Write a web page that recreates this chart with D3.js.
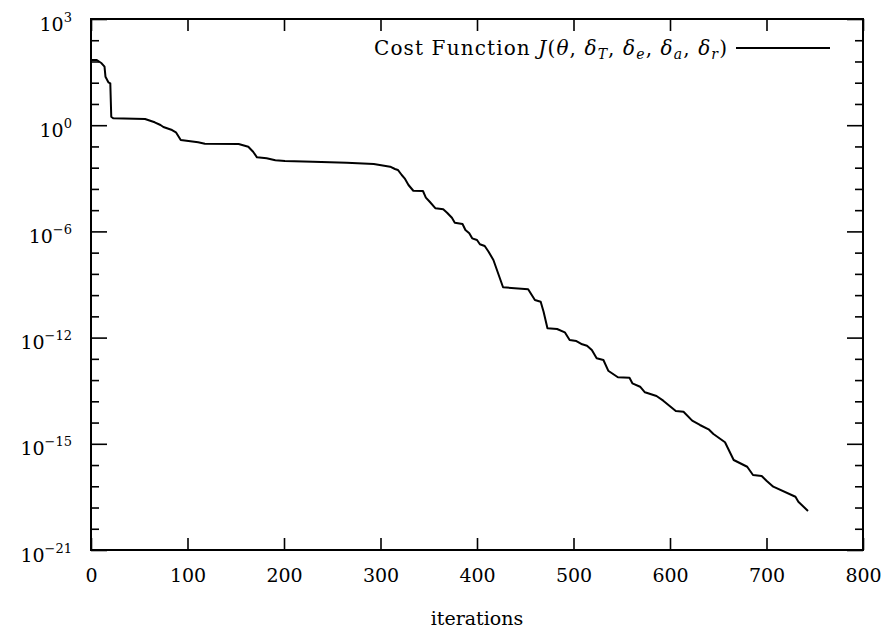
<!DOCTYPE html>
<html>
<head>
<meta charset="utf-8">
<script src="https://cdn.jsdelivr.net/npm/d3@7"></script>
<style>
body { margin: 0; background: #fff; }
text { font-family: "DejaVu Serif", serif; fill: #000; }
</style>
</head>
<body>
<svg id="chart" width="886" height="632"></svg>
<script>
// iterations and cost
const iterations = [0, 6, 11, 14, 15, 18, 20, 21, 23, 56, 66, 72, 75, 84, 88, 93, 111, 118, 153, 163,
    168, 172, 182, 191, 201, 230, 265, 293, 310, 315, 318, 322, 325, 329, 334, 344, 347, 351, 357, 365,
    369, 374, 377, 385, 388, 392, 395, 400, 403, 408, 412, 417, 427, 453, 460, 466, 469, 473, 483, 491,
    496, 503, 509, 514, 519, 524, 531, 536, 546, 558, 561, 569, 574, 586, 593, 606, 614, 623, 631, 640,
    645, 657, 666, 680, 686, 695, 700, 707, 730, 733, 743]
const cost = [14.0, 14.0, 9.95, 6.98, 2.47, 1.38, 1.24, 3.84e-2, 3.25e-2, 3.02e-2, 2.14e-2, 1.62e-2, 1.32e-2, 9.6e-3, 7.6e-3, 3.4e-3, 2.67e-3, 2.31e-3, 2.24e-3, 1.69e-3,
    1.0e-3, 5.6e-4, 5.06e-4, 4.11e-4, 3.82e-4, 3.55e-4, 3.2e-4, 2.79e-4, 2.11e-4, 1.66e-4, 1.5e-4, 8.9e-5, 6.3e-5, 3.14e-5, 1.73e-5, 1.68e-5, 8.4e-6, 5.5e-6, 2.78e-6, 2.51e-6,
    1.76e-6, 1.04e-6, 6.2e-7, 5.4e-7, 2.9e-7, 2.06e-7, 1.22e-7, 1.03e-7, 6.6e-8, 5.5e-8, 3.03e-8, 1.28e-8, 7.5e-10, 6.1e-10, 2.0e-10, 1.67e-10, 5.9e-11, 1.05e-11, 9.75e-12, 6.9e-12,
    3.1e-12, 2.79e-12, 1.98e-12, 1.71e-12, 1.09e-12, 4.6e-13, 3.87e-13, 1.27e-13, 6.4e-14, 6.1e-14, 3.42e-14, 2.4e-14, 1.34e-14, 9.1e-15, 5.6e-15, 1.91e-15, 1.78e-15, 7.0e-16, 4.47e-16, 2.85e-16,
    1.75e-16, 7.4e-17, 1.17e-17, 5.8e-18, 2.45e-18, 2.21e-18, 1.36e-18, 7.3e-19, 2.56e-19, 1.52e-19, 5.8e-20]

const xTicks = [0, 100, 200, 300, 400, 500, 600, 700, 800]
// the major y ticks sit evenly spaced; their labels are as printed on the picture
const yMajorTicks = [1e3, 1.585e-2, 2.512e-7, 3.981e-12, 6.31e-17, 1e-21]
const yTickExponents = ['3', '0', '\u22126', '\u221212', '\u221215', '\u221221']
const yMinorTicks = d3.range(1, 25).filter(i => i % 5).map(i => Math.pow(10, 3 - i * 0.96))
const xLabel = 'iterations'
const legendSubs = ['T', 'e', 'a', 'r']

const width = 886, height = 632
const margin = { top: 19, right: 23, bottom: 82, left: 91 }
const plotW = width - margin.left - margin.right
const plotH = height - margin.top - margin.bottom
const fontSize = 19, smallSize = 13

const svg = d3.select('#chart')
const g = svg.append('g').attr('transform', `translate(${margin.left},${margin.top})`)

const x = d3.scaleLinear().domain([0, 800]).range([0, plotW])
const y = d3.scaleLog().domain([1e-21, 1e3]).range([plotH, 0])

function styleAxis(sel) {
    sel.select('.domain').remove()
    sel.selectAll('line').attr('stroke', '#000').attr('stroke-width', 1.6)
}

// x ticks, bottom with labels and top mirrored
const xBottom = g.append('g').attr('transform', `translate(0,${plotH})`)
    .call(d3.axisBottom(x).tickValues(xTicks).tickSize(-12))
styleAxis(xBottom)
xBottom.selectAll('text').attr('y', 32).attr('dy', null).attr('font-size', fontSize)
    .attr('font-family', '"DejaVu Serif", serif')

const xTop = g.append('g').call(d3.axisTop(x).tickValues(xTicks).tickSize(-12).tickFormat(''))
styleAxis(xTop)

// y ticks, left and right, major and minor
const yLeft = g.append('g').call(d3.axisLeft(y).tickValues(yMajorTicks).tickSize(-16))
styleAxis(yLeft)
yLeft.selectAll('text').each(function (d, i) {
    const t = d3.select(this).text('').attr('x', -19).attr('dy', 11)
        .attr('font-size', fontSize).attr('font-family', '"DejaVu Serif", serif')
    t.append('tspan').text('10')
    t.append('tspan').attr('dy', -9).attr('font-size', smallSize).text(yTickExponents[i])
})

const yLeftMinor = g.append('g').call(d3.axisLeft(y).tickValues(yMinorTicks).tickSize(-8).tickFormat(''))
styleAxis(yLeftMinor)

const yRight = g.append('g').attr('transform', `translate(${plotW},0)`)
    .call(d3.axisRight(y).tickValues(yMajorTicks).tickSize(-16).tickFormat(''))
styleAxis(yRight)
const yRightMinor = g.append('g').attr('transform', `translate(${plotW},0)`)
    .call(d3.axisRight(y).tickValues(yMinorTicks).tickSize(-8).tickFormat(''))
styleAxis(yRightMinor)

// frame
g.append('rect')
    .attr('width', plotW)
    .attr('height', plotH)
    .attr('fill', 'none')
    .attr('stroke', '#000')
    .attr('stroke-width', 2)

// cost curve
const line = d3.line()
    .x((d, i) => x(iterations[i]))
    .y(d => y(d))

g.append('path')
    .datum(cost)
    .attr('d', line)
    .attr('fill', 'none')
    .attr('stroke', '#000')
    .attr('stroke-width', 2)
    .attr('stroke-linejoin', 'round')

// x axis title
svg.append('text')
    .attr('x', margin.left + plotW / 2)
    .attr('y', 625)
    .attr('text-anchor', 'middle')
    .attr('font-size', fontSize)
    .text(xLabel)

// legend
const legend = svg.append('text')
    .attr('x', 374)
    .attr('y', 55)
    .attr('font-size', 20)
    .attr('textLength', 353)
    .attr('lengthAdjust', 'spacing')
legend.append('tspan').text('Cost Function ')
legend.append('tspan').attr('font-style', 'italic').text('J')
legend.append('tspan').text('(')
legend.append('tspan').attr('font-style', 'italic').text('\u03b8')
legendSubs.forEach((s, i) => {
    legend.append('tspan').attr('dy', i ? -4 : 0).text(', ')
    legend.append('tspan').attr('font-style', 'italic').text('\u03b4')
    legend.append('tspan').attr('font-style', 'italic').attr('font-size', 14).attr('dy', 4).text(s)
})
legend.append('tspan').attr('dy', -4).text(')')

svg.append('line')
    .attr('x1', 736).attr('x2', 830)
    .attr('y1', 48).attr('y2', 48)
    .attr('stroke', '#000')
    .attr('stroke-width', 2)
</script>
</body>
</html>
